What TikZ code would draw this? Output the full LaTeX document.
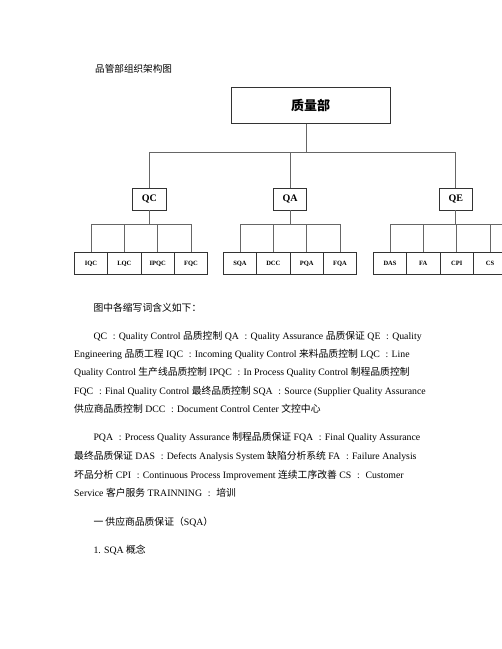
\documentclass[tikz,border=0pt]{standalone}
\usepackage{fontspec}
\setmainfont{Liberation Serif}
\newfontfamily\cjk{Noto Sans CJK SC}
\newcommand{\zh}[1]{{\cjk #1}}
\newcommand{\fc}{\makebox[0.95em][c]{:}}
\begin{document}
\begin{tikzpicture}[x=1pt,y=-1pt,
  box/.style={draw=black!80, line width=0.7pt, inner sep=0pt, minimum width=33.3pt, minimum height=21.5pt, font=\bfseries\fontsize{6.5}{7}\selectfont},
  mid/.style={draw=black!80, line width=0.7pt, inner sep=0pt, minimum width=33.3pt, minimum height=21.7pt, font=\bfseries\fontsize{10}{12}\selectfont},
  link/.style={draw=black!60, line width=0.7pt},
  txt/.style={anchor=base west, inner sep=0pt, font=\fontsize{9.8}{12}\selectfont}]
\fill[white] (0,0) rectangle (502,649);
\useasboundingbox (0,0) rectangle (502,649);

\node[txt, font=\fontsize{9.6}{12}\selectfont] (title) at (95,72) {\zh{品管部组织架构图}};

\node[draw=black!80, line width=0.7pt, minimum width=158.7pt, minimum height=36pt, inner sep=0pt] (top) at (310.7,105.3) {\cjk\bfseries\fontsize{13}{15}\selectfont 质量部};

\node[mid] (qc) at (149.3,199.2) {QC};
\node[mid] (qa) at (290,199.2) {QA};
\node[mid] (qe) at (455.8,199.2) {QE};

\node[box] (iqc) at (91,263.5) {IQC};
\node[box] (lqc) at (124.3,263.5) {LQC};
\node[box] (ipqc) at (157.7,263.5) {IPQC};
\node[box] (fqc) at (191,263.5) {FQC};
\node[box] (sqa) at (240,263.5) {SQA};
\node[box] (dcc) at (273.3,263.5) {DCC};
\node[box] (pqa) at (306.7,263.5) {PQA};
\node[box] (fqa) at (340,263.5) {FQA};
\node[box] (das) at (390,263.5) {DAS};
\node[box] (fa) at (423.3,263.5) {FA};
\node[box] (cpi) at (456.7,263.5) {CPI};
\node[box] (cs) at (490,263.5) {CS};

\coordinate (j0) at (306,152.2);
\coordinate (bus) at (0,224.3);
\coordinate (qeend) at (510,224.3);

\draw[link] (j0 |- top.south) -- (j0);
\draw[link] (qc |- j0) -- (qe |- j0);
\foreach \n in {qc,qa,qe} \draw[link] (\n |- j0) -- (\n.north);
\foreach \n in {qc,qa,qe} \draw[link] (\n.south) -- (\n |- bus);
\draw[link] (iqc |- bus) -- (fqc |- bus);
\draw[link] (sqa |- bus) -- (fqa |- bus);
\draw[link] (das |- bus) -- (qeend);
\foreach \n in {iqc,lqc,ipqc,fqc,sqa,dcc,pqa,fqa,das,fa,cpi,cs} \draw[link] (\n |- bus) -- (\n.north);

\node[txt] (t0) at (93.3,311) {\zh{图中各缩写词含义如下：}};
\node[txt] (t1) at (93.3,339.2) {QC \fc Quality Control \zh{品质控制} QA \fc Quality Assurance \zh{品质保证} QE \fc Quality};
\node[txt] (t2) at (74,357.5) {Engineering \zh{品质工程} IQC \fc Incoming Quality Control \zh{来料品质控制} LQC \fc Line};
\node[txt] (t3) at (74,375.8) {Quality Control \zh{生产线品质控制} IPQC \fc In Process Quality Control \zh{制程品质控制}};
\node[txt] (t4) at (74,394.1) {FQC \fc Final Quality Control \zh{最终品质控制} SQA \fc Source (Supplier Quality Assurance};
\node[txt] (t5) at (74,412.4) {\zh{供应商品质控制} DCC \fc Document Control Center \zh{文控中心}};
\node[txt] (t6) at (93.3,440.8) {PQA \fc Process Quality Assurance \zh{制程品质保证} FQA \fc Final Quality Assurance};
\node[txt] (t7) at (74,459.2) {\zh{最终品质保证} DAS \fc Defects Analysis System \zh{缺陷分析系统} FA \fc Failure Analysis};
\node[txt] (t8) at (74,478.2) {\zh{坏品分析} CPI \fc Continuous Process Improvement \zh{连续工序改善} CS \fc\ Customer};
\node[txt] (t9) at (74,496.2) {Service \zh{客户服务} TRAINNING \fc\ \zh{培训}};
\node[txt] (t10) at (93.3,525.2) {\zh{一 供应商品质保证（}SQA\zh{）}};
\node[txt] (t11) at (93.3,553.5) {1. SQA \zh{概念}};
\end{tikzpicture}
\end{document}
